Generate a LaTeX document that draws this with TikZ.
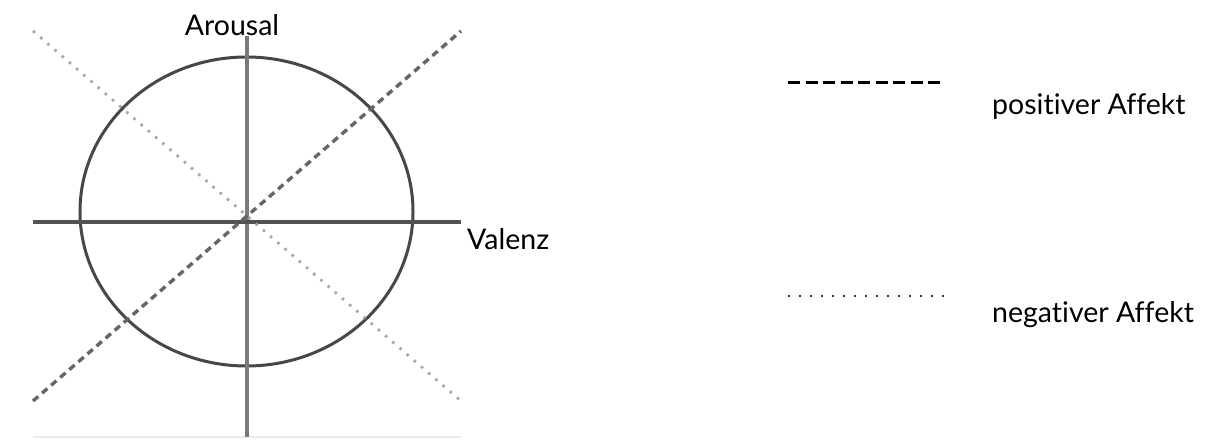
\documentclass[tikz,border=0pt]{standalone}
\usepackage{fontspec}
\setmainfont{Lato}[RawFeature=-liga]
\begin{document}
\begin{tikzpicture}[x=1pt,y=-1pt,
  axis/.style={line width=3.2pt,color=black!68},
  vaxis/.style={line width=3.4pt,color=black!52},
  circ/.style={line width=3pt,color=black!72},
  posline/.style={line width=3.4pt,color=black!60,dash pattern=on 7pt off 5pt},
  negline/.style={line width=2.8pt,color=black!35,dash pattern=on 2.5pt off 7pt},
  legpos/.style={line width=3pt,color=black,dash pattern=on 12pt off 5.5pt},
  legneg/.style={line width=2.6pt,color=black!80,dash pattern=on 2.4pt off 8.6pt},
  lbl/.style={font=\fontsize{28.5}{32}\selectfont,inner sep=0pt}]
\useasboundingbox[fill=white] (0,0) rectangle (1206,446);
% baseline
\coordinate (bl) at (33,437);
\coordinate (br) at (461,437);
\draw[line width=2pt,color=black!8] (bl) -- (br);
% ellipse
\coordinate (c) at (246.5,211.5);
\draw[circ] (c) ellipse [x radius=166.5,y radius=154.5];
% axes
\coordinate (hl) at (33,222);
\coordinate (hr) at (461,222);
\coordinate (vt) at (247,36);
\coordinate (vb) at (247,437);
\draw[vaxis] (vt) -- (vb);
\draw[axis] (hl) -- (hr);
% diagonals
\coordinate (dbl) at (33,401);
\coordinate (dtr) at (461,31);
\coordinate (dtl) at (33,31);
\coordinate (dbr) at (461,401);
\draw[posline] (dbl) -- (dtr);
\draw[negline] (dtl) -- (dbr);
% labels
\node[lbl] (arousal) at (232,25) {Arousal};
\node[lbl,anchor=west] (valenz) at (467,239) {Valenz};
% legend
\coordinate (lp1) at (788,83);
\coordinate (lp2) at (942,83);
\draw[legpos] (lp1) -- (lp2);
\node[lbl,anchor=west] (pos) at (992,106) {positiver Affekt};
\coordinate (ln1) at (788,296);
\coordinate (ln2) at (945,296);
\draw[legneg] (ln1) -- (ln2);
\node[lbl,anchor=west] (neg) at (992,315) {negativer Affekt};
\end{tikzpicture}
\end{document}
